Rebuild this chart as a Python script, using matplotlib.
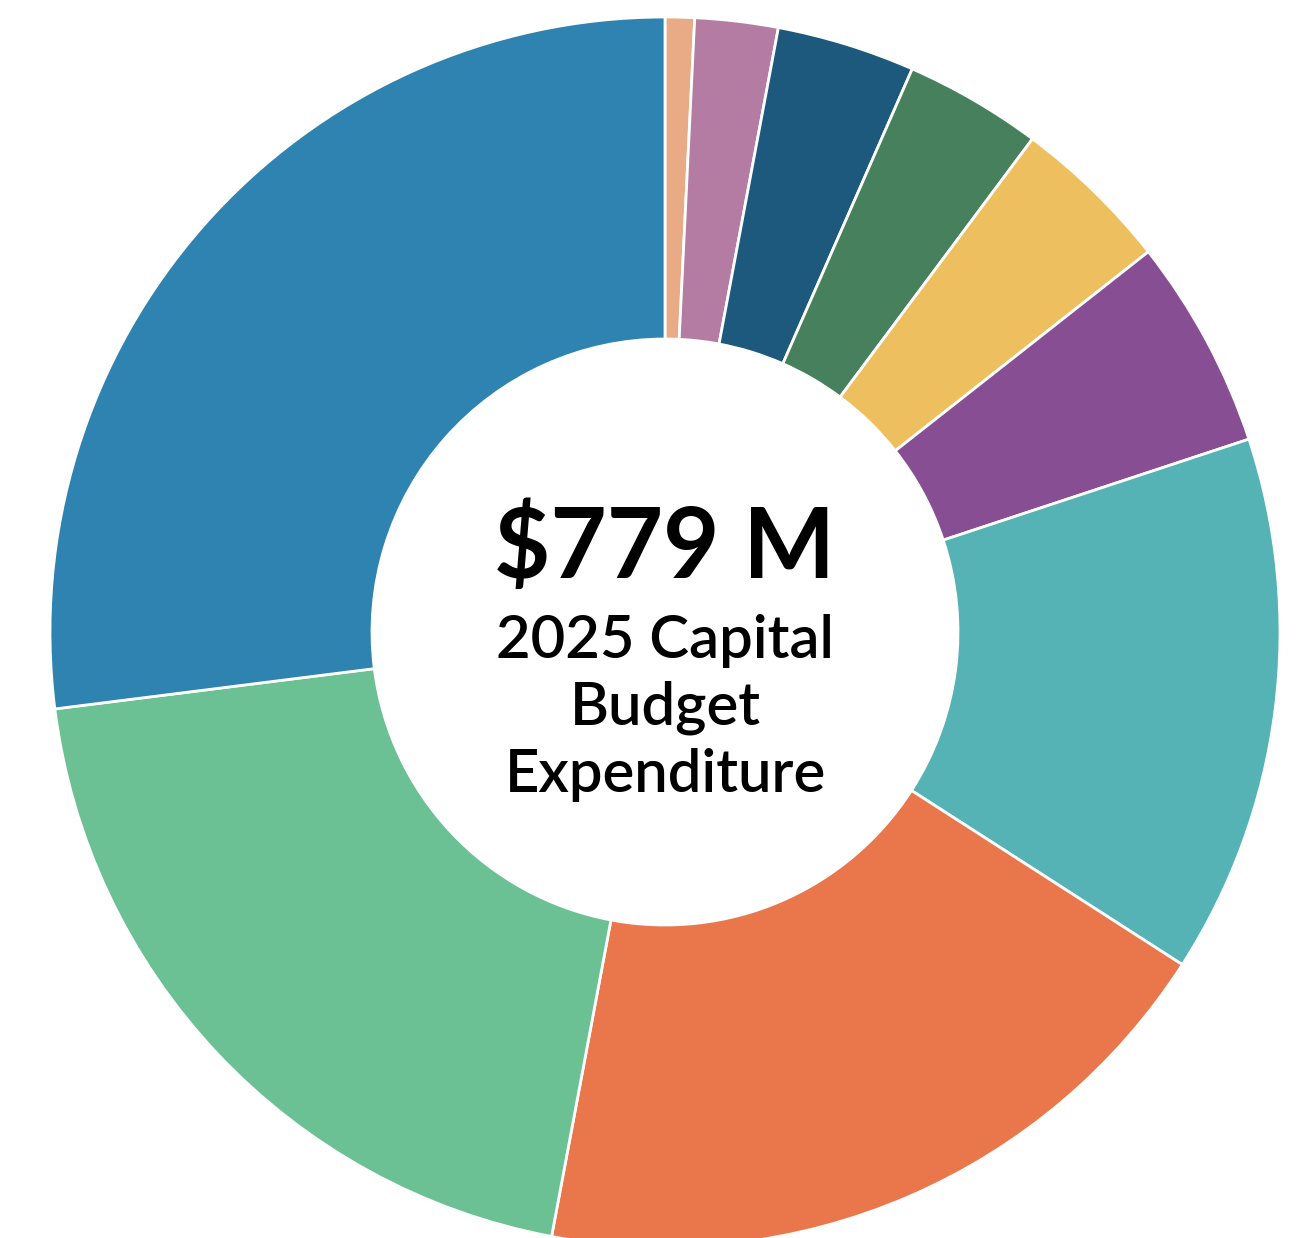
import matplotlib
matplotlib.use("Agg")
import matplotlib.pyplot as plt

# capital budget split ($M), clockwise from 12 o'clock
segments = ["A", "B", "C", "D", "E", "F", "G", "H", "I", "J"]
values = [6.0, 17.0, 28.3, 28.1, 32.7, 43.1, 110.4, 146.9, 156.2, 210.3]
colors = ["#E9AB86", "#B47CA2", "#1C597C", "#46805C", "#EDBF5F",
          "#884E93", "#55B3B5", "#EA774B", "#6BC194", "#2E83B1"]

total_label = "$779 M"
sub_label = ["2025 Capital", "Budget", "Expenditure"]

W, H = 1301, 1238
cx, cy, R = 665, 632, 615  # pixel centre and outer radius

fig = plt.figure(figsize=(W / 100, H / 100), dpi=100)
ax = fig.add_axes([0, 0, 1, 1])

ax.pie(values, colors=colors, startangle=90, counterclock=False, radius=1,
       wedgeprops=dict(width=1 - 293 / R, edgecolor="white", linewidth=2))
ax.set_xlim(-cx / R, (W - cx) / R)
ax.set_ylim(-(H - cy) / R, cy / R)
ax.set_aspect("equal")
ax.axis("off")

fam = ["Lato", "DejaVu Sans"]
ax.text(0, (cy - 548) / R, total_label, ha="center", va="center",
        fontsize=70, fontweight="bold", family=fam)
for i, line in enumerate(sub_label):
    ax.text(0, (cy - 641 - 67 * i) / R, line, ha="center", va="center",
            fontsize=43, fontweight="semibold", family=fam)

fig.savefig("out.png", dpi=100)
